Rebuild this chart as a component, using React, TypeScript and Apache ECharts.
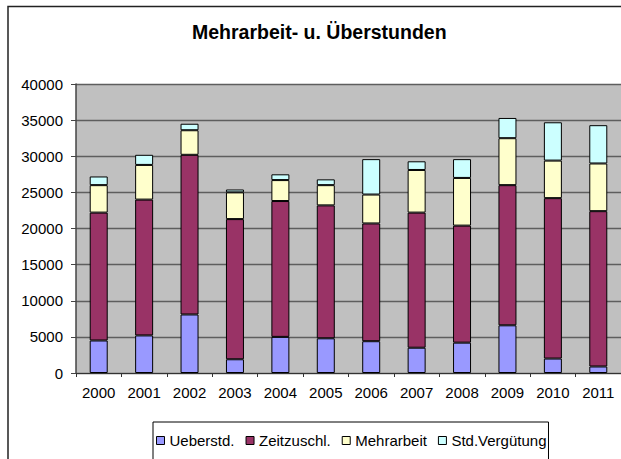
import React, { useEffect, useRef } from "react";
import * as echarts from "echarts";

const years = ["2000", "2001", "2002", "2003", "2004", "2005", "2006", "2007", "2008", "2009", "2010", "2011"];
const ueberstd = [4500, 5200, 8100, 1900, 5000, 4800, 4400, 3500, 4200, 6600, 2000, 900];
const zeitzuschl = [17700, 18800, 22100, 19400, 18800, 18400, 16300, 18700, 16200, 19400, 22200, 21500];
const mehrarbeit = [3800, 4800, 3400, 3700, 2900, 2800, 4000, 5900, 6600, 6500, 5200, 6600];
const stdVerguetung = [1200, 1400, 900, 400, 800, 800, 4900, 1200, 2600, 2800, 5300, 5300];

const seriesNames = ["Ueberstd.", "Zeitzuschl.", "Mehrarbeit", "Std.Vergütung"];
const seriesColors = ["#9999FF", "#993366", "#FFFFCC", "#CCFFFF"];
const seriesData = [ueberstd, zeitzuschl, mehrarbeit, stdVerguetung];

const FONT = "'Liberation Sans', Arial, sans-serif";

export default function App() {
  const ref = useRef<HTMLDivElement>(null);
  useEffect(() => {
    if (!ref.current) return;
    const chart = echarts.init(ref.current, null, { renderer: "svg" });
    chart.setOption({
      animation: false,
      backgroundColor: "#ffffff",
      title: {
        text: "Mehrarbeit- u. Überstunden",
        left: 192,
        top: 22,
        padding: 0,
        textStyle: { fontFamily: FONT, fontSize: 19.5, fontWeight: "bold", color: "#000" },
      },
      graphic: [
        {
          type: "rect",
          shape: { x: 8, y: 6.5, width: 800, height: 600 },
          style: { fill: "none", stroke: "#222", lineWidth: 1.5 },
          silent: true,
        },
      ],
      legend: {
        left: 153,
        top: 422,
        orient: "horizontal",
        padding: [11, 2, 14, 3],
        itemGap: 11,
        itemWidth: 8,
        itemHeight: 8,
        borderColor: "#000",
        borderWidth: 1,
        backgroundColor: "#fff",
        icon: "rect",
        itemStyle: { borderColor: "#000", borderWidth: 1 },
        textStyle: { fontFamily: FONT, fontSize: 15, color: "#000" },
        data: seriesNames,
      },
      grid: {
        left: 76,
        top: 84,
        width: 546,
        height: 289,
        show: true,
        backgroundColor: "#C0C0C0",
        borderWidth: 0,
      },
      xAxis: {
        type: "category",
        data: years,
        axisLine: { lineStyle: { color: "#333", width: 1 } },
        axisTick: { show: true, length: 4, lineStyle: { color: "#333" } },
        axisLabel: { fontFamily: FONT, fontSize: 15, color: "#000", margin: 12 },
      },
      yAxis: {
        type: "value",
        min: 0,
        max: 40000,
        interval: 5000,
        axisLine: { show: true, lineStyle: { color: "#444", width: 1.5 } },
        axisTick: { show: true, length: 5, lineStyle: { color: "#444" } },
        axisLabel: {
          fontFamily: FONT,
          fontSize: 15,
          color: "#000",
          margin: 13,
          formatter: (v: number) => String(v),
        },
        splitLine: { show: true, lineStyle: { color: "#5e5e5e", width: 1.3 } },
      },
      series: seriesNames.map((name, i) => ({
        name,
        type: "bar",
        stack: "total",
        barWidth: 18,
        data: seriesData[i],
        itemStyle: { color: seriesColors[i], borderColor: "#000", borderWidth: 1 },
      })),
    });
    return () => chart.dispose();
  }, []);
  return <div ref={ref} style={{ position: "absolute", left: 0, top: 0, width: 621, height: 459 }} />;
}
